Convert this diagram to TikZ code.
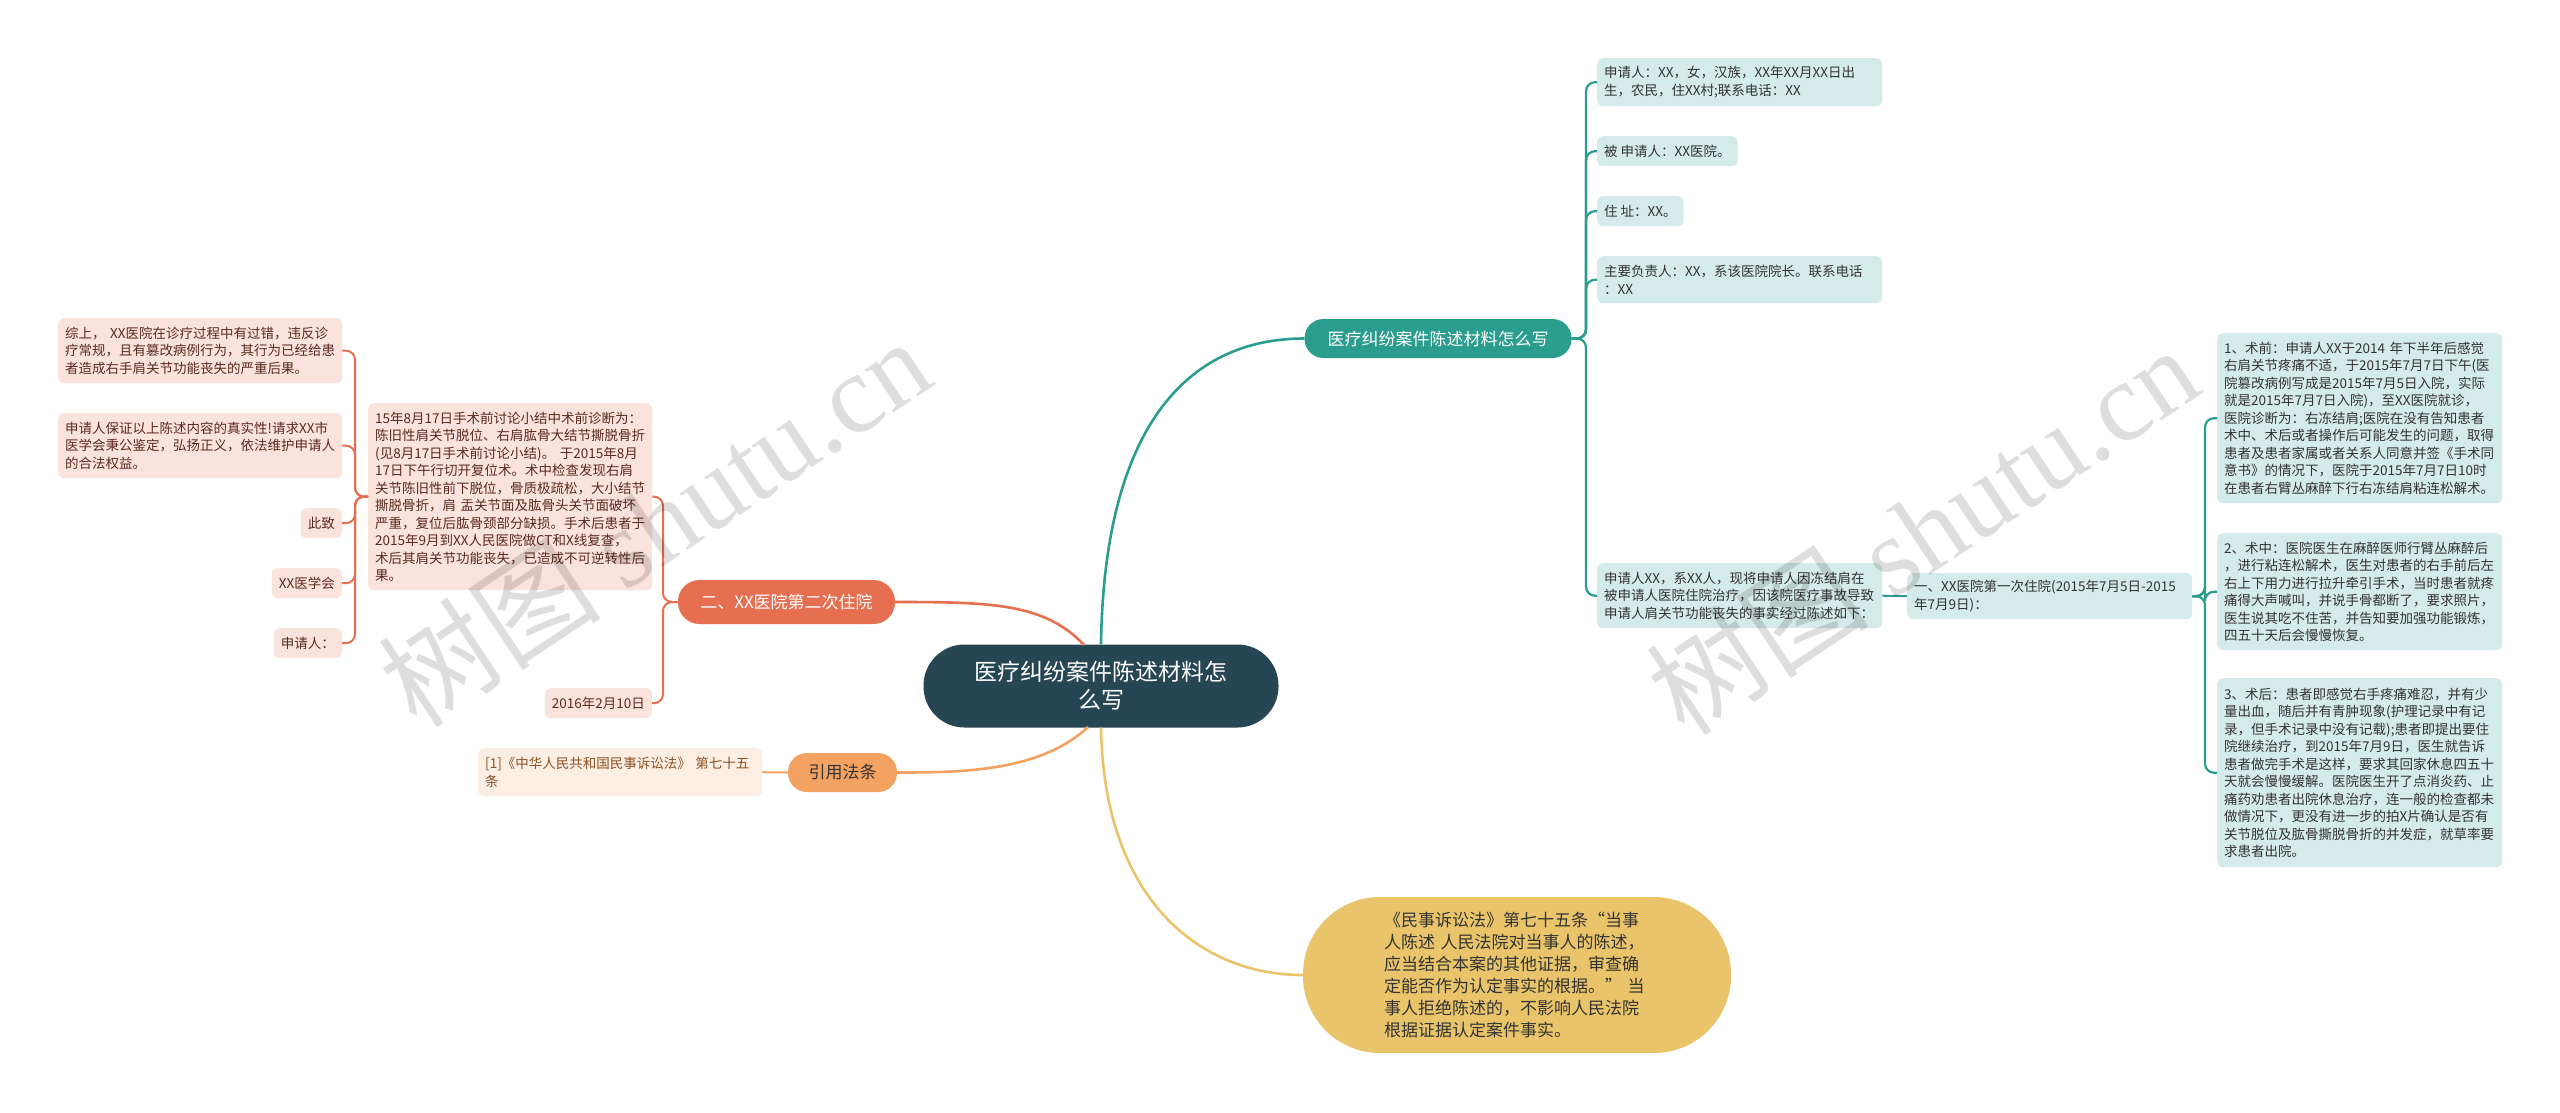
\documentclass[tikz,border=0pt]{standalone}
\usepackage{fontspec}
\setmainfont{Noto Sans CJK SC}
\newfontfamily\wmlatin{Liberation Serif}
\definecolor{cDark}{HTML}{264653}
\definecolor{cTeal}{HTML}{2A9D8F}
\definecolor{cRed}{HTML}{E76F51}
\definecolor{cOrange}{HTML}{F4A261}
\definecolor{cYellow}{HTML}{E9C46A}
\definecolor{tealL}{HTML}{D5EBE9}
\definecolor{redL}{HTML}{FAE3DD}
\definecolor{orangeL}{HTML}{FDEEE3}
\definecolor{txtD}{HTML}{333333}
\definecolor{txtR}{HTML}{5A2A20}
\definecolor{txtO}{HTML}{8A5226}
\tikzset{
  sbox/.style={rounded corners=6pt, inner xsep=7pt, inner ysep=0pt, align=left,
    font=\fontsize{13.5}{17.5}\selectfont},
  tbox/.style={sbox, fill=tealL, text=txtD},
  rbox/.style={sbox, fill=redL, text=txtR},
  obox/.style={sbox, fill=orangeL, text=txtO},
  tline/.style={draw=cTeal, line width=2.2pt, rounded corners=9pt},
  rline/.style={draw=cRed, line width=2pt, rounded corners=9pt},
  mline/.style={line width=2.6pt},
  wm/.style={text=black, opacity=0.13, rotate=33.7, inner sep=0pt}
}
\begin{document}
\begin{tikzpicture}[x=1pt,y=-1pt]
\useasboundingbox[fill=white] (0,0) rectangle (2560,1112);

% ---------- main nodes ----------
\node[fill=cDark, text=white, rounded corners=41pt, minimum width=355pt, minimum height=83pt,
  inner sep=0pt, align=center, text width=262pt, font=\fontsize{23}{28}\selectfont]
  (c) at (1101,686) {医疗纠纷案件陈述材料怎\\么写};
\node[fill=cTeal, text=white, rounded corners=19pt, minimum width=267pt, minimum height=39pt,
  inner sep=0pt, font=\fontsize{17}{20}\selectfont] (tm) at (1438,338.5) {医疗纠纷案件陈述材料怎么写};
\node[fill=cRed, text=white, rounded corners=21.5pt, minimum width=217pt, minimum height=44pt,
  inner sep=0pt, font=\fontsize{17}{20}\selectfont] (er) at (786.5,602) {二、XX医院第二次住院};
\node[fill=cOrange, text=txtD, rounded corners=19pt, minimum width=109pt, minimum height=39pt,
  inner sep=0pt, font=\fontsize{17}{20}\selectfont] (yy) at (842.5,772.5) {引用法条};
\node[fill=cYellow, text=txtD, rounded corners=77pt, minimum width=428pt, minimum height=156pt,
  inner sep=0pt, align=left, text width=266pt, font=\fontsize{17}{22}\selectfont] (ye) at (1517,975)
  {《民事诉讼法》第七十五条“当事\\人陈述 人民法院对当事人的陈述，\\应当结合本案的其他证据，审查确\\定能否作为认定事实的根据。” 当\\事人拒绝陈述的，不影响人民法院\\根据证据认定案件事实。};

% ---------- right teal children ----------
\node[tbox, anchor=north west, text width=271pt, minimum height=48pt] (t1) at (1597,58)
  {申请人：XX，女，汉族，XX年XX月XX日出\\生，农民，住XX村;联系电话：XX};
\node[tbox, anchor=north west, minimum height=30pt] (t2) at (1597,136) {被 申请人：XX医院。};
\node[tbox, anchor=north west, minimum height=30pt] (t3) at (1597,196) {住 址：XX。};
\node[tbox, anchor=north west, text width=271pt, minimum height=47pt] (t4) at (1597,256)
  {主要负责人：XX，系该医院院长。联系电话\\：XX};
\node[tbox, anchor=north west, text width=271pt, minimum height=65pt] (t5) at (1597,563)
  {申请人XX，系XX人，现将申请人因冻结肩在\\被申请人医院住院治疗，因该院医疗事故导致\\申请人肩关节功能丧失的事实经过陈述如下：};
\node[tbox, anchor=north west, text width=271pt, minimum height=46pt] (f1) at (1907,573)
  {一、XX医院第一次住院(2015年7月5日-2015\\年7月9日)：};
\node[tbox, anchor=north west, text width=271pt, minimum height=170pt] (d1) at (2217,333)
  {1、术前：申请人XX于2014 年下半年后感觉\\右肩关节疼痛不适，于2015年7月7日下午(医\\院篡改病例写成是2015年7月5日入院，实际\\就是2015年7月7日入院)，至XX医院就诊，\\医院诊断为：右冻结肩;医院在没有告知患者\\术中、术后或者操作后可能发生的问题，取得\\患者及患者家属或者关系人同意并签《手术同\\意书》的情况下，医院于2015年7月7日10时\\在患者右臂丛麻醉下行右冻结肩粘连松解术。};
\node[tbox, anchor=north west, text width=271pt, minimum height=117pt] (d2) at (2217,533)
  {2、术中：医院医生在麻醉医师行臂丛麻醉后\\，进行粘连松解术，医生对患者的右手前后左\\右上下用力进行拉升牵引手术，当时患者就疼\\痛得大声喊叫，并说手骨都断了，要求照片，\\医生说其吃不住苦，并告知要加强功能锻炼，\\四五十天后会慢慢恢复。};
\node[tbox, anchor=north west, text width=271pt, minimum height=189pt] (d3) at (2217,678)
  {3、术后：患者即感觉右手疼痛难忍，并有少\\量出血，随后并有青肿现象(护理记录中有记\\录，但手术记录中没有记载);患者即提出要住\\院继续治疗，到2015年7月9日，医生就告诉\\患者做完手术是这样，要求其回家休息四五十\\天就会慢慢缓解。医院医生开了点消炎药、止\\痛药劝患者出院休息治疗，连一般的检查都未\\做情况下，更没有进一步的拍X片确认是否有\\关节脱位及肱骨撕脱骨折的并发症，就草率要\\求患者出院。};

% ---------- left red children ----------
\node[rbox, anchor=north west, text width=270pt, minimum height=187pt] (b) at (368,403)
  {15年8月17日手术前讨论小结中术前诊断为：\\陈旧性肩关节脱位、右肩肱骨大结节撕脱骨折\\(见8月17日手术前讨论小结)。 于2015年8月\\17日下午行切开复位术。术中检查发现右肩\\关节陈旧性前下脱位，骨质极疏松，大小结节\\撕脱骨折，肩 盂关节面及肱骨头关节面破坏\\严重，复位后肱骨颈部分缺损。手术后患者于\\2015年9月到XX人民医院做CT和X线复查，\\术后其肩关节功能丧失，已造成不可逆转性后\\果。};
\node[rbox, anchor=north east, minimum height=30pt] (dt) at (652,688) {2016年2月10日};
\node[rbox, anchor=north west, text width=270pt, minimum height=65pt] (l1) at (58,318)
  {综上， XX医院在诊疗过程中有过错，违反诊\\疗常规，且有篡改病例行为，其行为已经给患\\者造成右手肩关节功能丧失的严重后果。};
\node[rbox, anchor=north west, text width=270pt, minimum height=65pt] (l2) at (58,413)
  {申请人保证以上陈述内容的真实性!请求XX市\\医学会秉公鉴定，弘扬正义，依法维护申请人\\的合法权益。};
\node[rbox, anchor=north east, minimum height=30pt] (l3) at (342,508) {此致};
\node[rbox, anchor=north east, minimum height=30pt] (l4) at (342,568) {XX医学会};
\node[rbox, anchor=north east, minimum height=30pt] (l5) at (342,628) {申请人：};

% ---------- orange child ----------
\node[obox, anchor=north west, text width=270pt, minimum height=48pt] (p1) at (478,748)
  {[1]《中华人民共和国民事诉讼法》 第七十五\\条};

% ---------- connectors from centre ----------
\draw[cTeal, mline] (c.north) .. controls (1104,430) and (1185,338.5) .. (tm.west);
\draw[cRed, mline] (1084,645) .. controls (1045,603) and (990,602) .. (er.east);
\draw[cOrange, mline] (1088,727) .. controls (1040,772) and (960,772.5) .. (yy.east);
\draw[cYellow, mline] (c.south) .. controls (1104,900) and (1200,975) .. (ye.west);

% ---------- teal branches ----------
\foreach \n in {t1,t2,t3,t4,t5}
  \draw[tline] (tm.east) -- (1586,338.5) -- (1586,0 |- \n.west) -- (\n.west);
\draw[cTeal, line width=2pt] (t5.east) -- (f1.west);
\foreach \n in {d1,d2,d3}
  \draw[tline] (f1.east) -- (2205,0 |- f1.east) -- (2205,0 |- \n.west) -- (\n.west);

% ---------- red branches ----------
\foreach \n in {b,dt}
  \draw[rline] (er.west) -- (663,0 |- er.west) -- (663,0 |- \n.east) -- (\n.east);
\foreach \n in {l1,l2,l3,l4,l5}
  \draw[rline] (b.west) -- (355,0 |- b.west) -- (355,0 |- \n.east) -- (\n.east);

% ---------- orange branch ----------
\draw[cOrange, line width=2pt] (yy.west) -- (p1.east);

% ---------- watermarks ----------
\node[wm] (wmA) at (654,522) {\fontsize{112}{112}\selectfont 树图 \wmlatin shutu.cn};
\node[wm] (wmB) at (1922,530) {\fontsize{112}{112}\selectfont 树图 \wmlatin shutu.cn};
\end{tikzpicture}
\end{document}
